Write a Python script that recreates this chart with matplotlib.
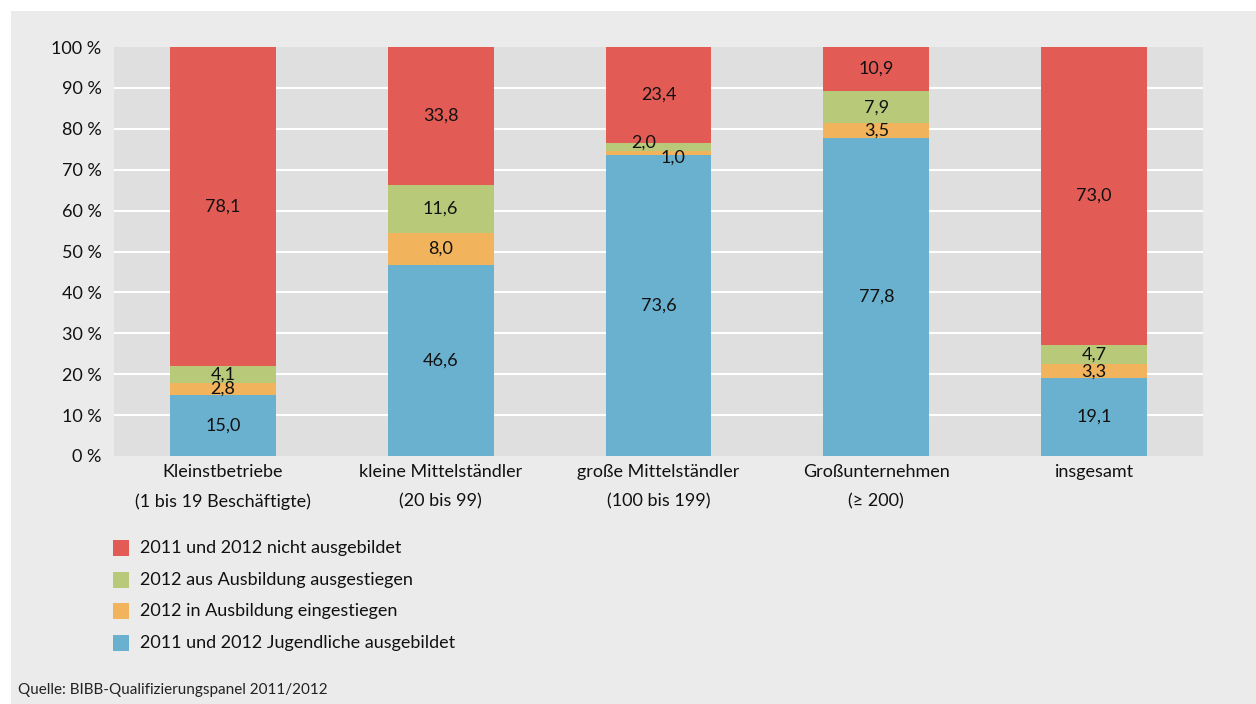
import matplotlib.pyplot as plt
from matplotlib.patches import Rectangle

plt.rcParams['font.family'] = ['Lato', 'DejaVu Sans']

# categories (two-line tick labels)
categories = [
    "Kleinstbetriebe\n(1 bis 19 Beschäftigte)",
    "kleine Mittelständler\n(20 bis 99)",
    "große Mittelständler\n(100 bis 199)",
    "Großunternehmen\n(≥ 200)",
    "insgesamt",
]

# shares in percent, stacked bottom to top
ausgebildet = [15.0, 46.6, 73.6, 77.8, 19.1]
eingestiegen = [2.8, 8.0, 1.0, 3.5, 3.3]
ausgestiegen = [4.1, 11.6, 2.0, 7.9, 4.7]
nicht_ausgebildet = [78.1, 33.8, 23.4, 10.9, 73.0]

series = [
    ("2011 und 2012 Jugendliche ausgebildet", ausgebildet, "#6ab1cf"),
    ("2012 in Ausbildung eingestiegen", eingestiegen, "#f1b35c"),
    ("2012 aus Ausbildung ausgestiegen", ausgestiegen, "#b8c97a"),
    ("2011 und 2012 nicht ausgebildet", nicht_ausgebildet, "#e35b55"),
]

W, H = 1256, 704
fig = plt.figure(figsize=(W / 100, H / 100), dpi=100, facecolor="white")

# grey panel behind everything
fig.patches.append(Rectangle((11 / W, 0), 1 - 11 / W, 1 - 11 / H,
                             transform=fig.transFigure, facecolor="#ebebeb",
                             edgecolor="none", zorder=-10))

ax = fig.add_axes([114 / W, 1 - 456 / H, (1203 - 114) / W, (456 - 47) / H])
ax.set_facecolor("#dfdfdf")

x = list(range(len(categories)))
bottom = [0.0] * len(categories)
bars = {}
for name, vals, col in series:
    bars[name] = ax.bar(x, vals, width=0.486, bottom=bottom, color=col,
                        label=name, zorder=3)
    bottom = [b + v for b, v in zip(bottom, vals)]

# value labels; thin segments get nudged apart (pixels, key = series, category)
nudge = {(2, 2): (-15, 4), (1, 2): (14, -5)}
for si, (name, vals, col) in enumerate(series):
    for ci, (rect, v) in enumerate(zip(bars[name], vals)):
        dx, dy = nudge.get((si, ci), (0, 0))
        ax.annotate(f"{v:.1f}".replace(".", ","),
                    (rect.get_x() + rect.get_width() / 2,
                     rect.get_y() + rect.get_height() / 2),
                    xytext=(dx, dy), textcoords="offset pixels",
                    ha="center", va="center", fontsize=13, color="#111111",
                    zorder=5)

ax.set_xlim(-0.5, len(categories) - 0.5)
ax.set_ylim(0, 100)
ax.set_yticks(range(0, 101, 10))
ax.set_yticklabels([f"{t} %" for t in range(0, 101, 10)], fontsize=13)
ax.set_xticks(x)
ax.set_xticklabels(categories, fontsize=13, linespacing=2.0, va="top")
ax.tick_params(length=0, pad=9, colors="#111111")
ax.tick_params(axis="x", pad=6)
for s in ax.spines.values():
    s.set_visible(False)
for t in range(10, 100, 10):
    ax.axhline(t, color="white", lw=1.5, zorder=1)

# legend, top entry first
leg_rows = [548, 580, 611, 643]
for yy, (name, vals, col) in zip(leg_rows, reversed(series)):
    fig.patches.append(Rectangle((113 / W, 1 - (yy + 8) / H), 16 / W, 16 / H,
                                 transform=fig.transFigure, facecolor=col,
                                 edgecolor="none"))
    fig.text(140 / W, 1 - yy / H, name, fontsize=13, va="center",
             ha="left", color="#111111")

fig.text(18 / W, 1 - 690 / H, "Quelle: BIBB-Qualifizierungspanel 2011/2012",
         fontsize=11, va="center", ha="left", color="#222222")

fig.savefig("out.png", dpi=100, facecolor=fig.get_facecolor())
